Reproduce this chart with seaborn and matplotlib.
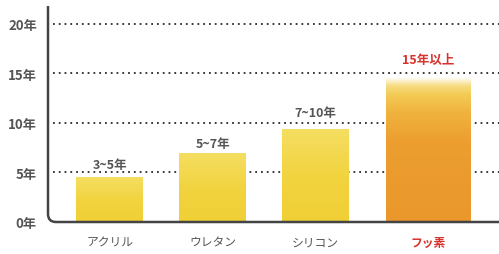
import numpy as np
import pandas as pd
import matplotlib
matplotlib.use("Agg")
import matplotlib.pyplot as plt
import seaborn as sns
from matplotlib.path import Path
from matplotlib.patches import PathPatch
from matplotlib.colors import LinearSegmentedColormap

categories = ["アクリル", "ウレタン", "シリコン", "フッ素"]
values = [4.5, 7.0, 9.4, 14.6]
value_labels = ["3~5年", "5~7年", "7~10年", "15年以上"]
yticks = [0, 5, 10, 15, 20]
ytick_labels = ["0年", "5年", "10年", "15年", "20年"]

sns.set_theme(style="white")
plt.rcParams['font.family'] = ['Noto Sans CJK JP', 'DejaVu Sans']

W, H = 499, 255
fig = plt.figure(figsize=(W / 100, H / 100), dpi=100)
left, right, top, bottom = 48, 499, 7, 223
ax = fig.add_axes([left / W, (H - bottom) / H, (right - left) / W, (bottom - top) / H])

df = pd.DataFrame({"cat": categories, "val": values})
sns.barplot(data=df, x="cat", y="val", ax=ax, width=0.65, color="#F2D23C", saturation=1)

for s in ax.spines.values():
    s.set_visible(False)

# gridlines
for y in yticks[1:]:
    ax.plot([0.01, 1.0], [y, y], transform=ax.get_yaxis_transform(),
            color="#2a2a2a", linestyle=(0, (1, 2.2)), linewidth=1.3, zorder=0.5)

# gradients
yellow = LinearSegmentedColormap.from_list("y", ["#F0CF36", "#F2D440", "#F5DE62"])
orange = LinearSegmentedColormap.from_list(
    "o", [(0.0, "#EA982C"), (0.55, "#EC9E2F"), (0.75, "#F0B23C"),
          (0.88, "#F3CB55"), (0.94, "#F6DC80"), (1.0, "#FFFFFF")])
patches = list(ax.patches)
for i, p in enumerate(patches):
    if i == 3:
        p.set_x(3.09 - 0.41)
        p.set_width(0.82)
    x0, w, h = p.get_x(), p.get_width(), p.get_height()
    grad = np.linspace(0, 1, 256).reshape(-1, 1)
    cmap = orange if i == 3 else yellow
    im = ax.imshow(grad, cmap=cmap, origin="lower", aspect="auto",
                   extent=[x0, x0 + w, 0, h], zorder=2)
    im.set_clip_path(p)
    p.set_facecolor("none")
    p.set_edgecolor("none")

# value labels
offsets = [1.35, 0.9, 1.7, 1.8]
for i, (v, lab) in enumerate(zip(values, value_labels)):
    cx = patches[i].get_x() + patches[i].get_width() / 2
    col = "#D8322E" if i == 3 else "#555555"
    ax.text(cx, v + offsets[i], lab, ha="center", va="center", fontsize=9,
            color=col, fontweight="bold")

ax.set_xlabel("")
ax.set_ylabel("")
ax.set_yticks(yticks)
ax.set_yticklabels(ytick_labels, fontsize=9.5, color="#555555", fontweight="bold")
ax.tick_params(axis="y", length=0, pad=8)
xt = [p.get_x() + p.get_width() / 2 for p in patches]
ax.set_xticks(xt)
ax.set_xticklabels(categories, fontsize=8.5, color="#555555")
ax.get_xticklabels()[3].set_color("#D8322E")
ax.get_xticklabels()[3].set_fontweight("bold")
ax.tick_params(axis="x", length=0, pad=10)
ax.set_ylim(0, 21.8)
ax.set_xlim(-0.60, 3.78)

# rounded axis corner (axes coordinates)
aw, ah = (right - left), (bottom - top)
r = 8.0
rx, ry = r / aw, r / ah
verts = [(0, 1.0), (0, ry), (0, 0), (rx, 0), (1.0, 0)]
codes = [Path.MOVETO, Path.LINETO, Path.CURVE3, Path.CURVE3, Path.LINETO]
ax.add_patch(PathPatch(Path(verts, codes), transform=ax.transAxes, fill=False,
                       edgecolor="#444444", linewidth=1.8, clip_on=False, zorder=3))

fig.savefig("out.png", dpi=100)
